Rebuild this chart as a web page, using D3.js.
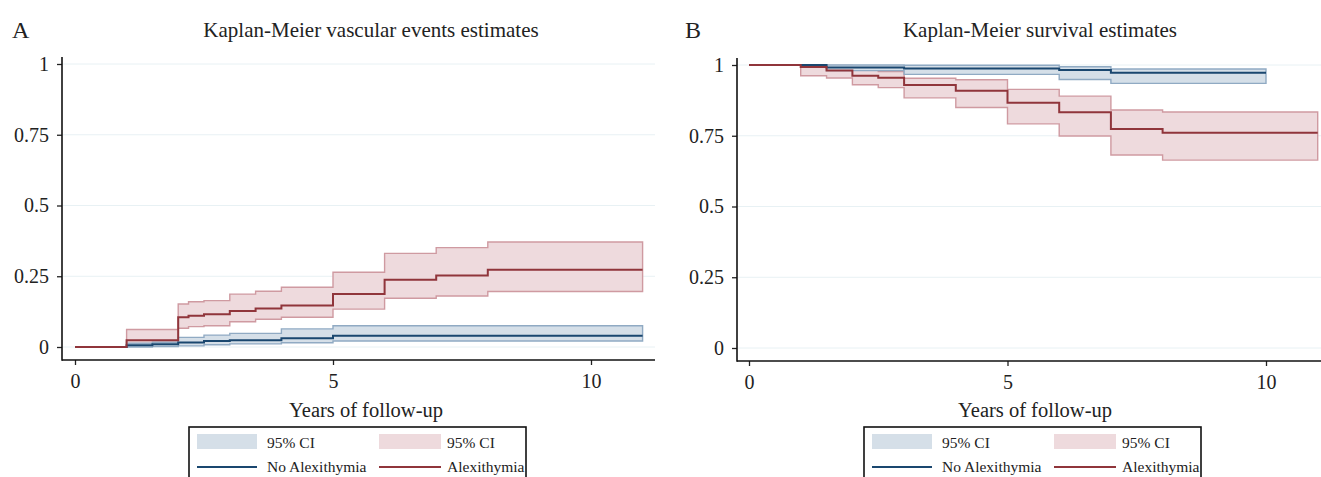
<!DOCTYPE html>
<html>
<head>
<meta charset="utf-8">
<script src="https://cdn.jsdelivr.net/npm/d3@7"></script>
<style>
  body { margin: 0; background: #fff; }
  text { font-family: "Liberation Serif", "Times New Roman", serif; fill: #222; }
</style>
</head>
<body>
<div id="chart"></div>
<script>
// --- DATA ---
const xTicks = [0, 5, 10];
const yTicks = [0, 0.25, 0.5, 0.75, 1];
const yTickLabels = ["0", "0.25", "0.5", "0.75", "1"];
const legendLabels = ["95% CI", "95% CI", "No Alexithymia", "Alexithymia"];

// Panel A: vascular events (cumulative)
const vascTimeNoAlex = [0, 1, 1.5, 2, 2.5, 3, 4, 5, 11];
const vascEstNoAlex = [0, 0.006, 0.010, 0.016, 0.021, 0.024, 0.031, 0.040, 0.040];
const vascCiTimeNoAlex = [1, 1.5, 2, 2.5, 3, 4, 5, 11];
const vascLoNoAlex = [0.000, 0.002, 0.004, 0.008, 0.011, 0.015, 0.021, 0.021];
const vascHiNoAlex = [0.013, 0.017, 0.034, 0.042, 0.048, 0.064, 0.075, 0.075];

const vascTimeAlex = [0, 1, 2, 2.2, 2.5, 3, 3.5, 4, 5, 6, 7, 8, 11];
const vascEstAlex = [0, 0.024, 0.105, 0.110, 0.116, 0.127, 0.136, 0.147, 0.187, 0.238, 0.253, 0.273, 0.273];
const vascCiTimeAlex = [1, 2, 2.2, 2.5, 3, 3.5, 4, 5, 6, 7, 8, 11];
const vascLoAlex = [0.004, 0.066, 0.072, 0.075, 0.089, 0.098, 0.105, 0.134, 0.172, 0.180, 0.196, 0.196];
const vascHiAlex = [0.062, 0.152, 0.160, 0.164, 0.187, 0.197, 0.211, 0.264, 0.331, 0.351, 0.371, 0.371];

// Panel B: survival
const survTimeNoAlex = [0, 1.5, 3, 6, 7, 10];
const survEstNoAlex = [1, 0.991, 0.988, 0.982, 0.973, 0.973];
const survCiTimeNoAlex = [1.5, 3, 6, 7, 10];
const survLoNoAlex = [0.980, 0.967, 0.949, 0.935, 0.935];
const survHiNoAlex = [1.0, 0.999, 0.994, 0.986, 0.986];

const survTimeAlex = [0, 1, 1.5, 2, 2.5, 3, 4, 5, 6, 7, 8, 11];
const survEstAlex = [1, 0.993, 0.981, 0.962, 0.955, 0.929, 0.909, 0.867, 0.833, 0.774, 0.761, 0.761];
const survCiTimeAlex = [1, 1.5, 2, 2.5, 3, 4, 5, 6, 7, 8, 11];
const survLoAlex = [0.962, 0.954, 0.930, 0.920, 0.884, 0.850, 0.792, 0.749, 0.682, 0.664, 0.664];
const survHiAlex = [1.0, 0.998, 0.981, 0.977, 0.953, 0.948, 0.914, 0.890, 0.841, 0.834, 0.834];

// colours (Stata s2color navy / maroon)
const BLUE = "#1a476f", RED = "#90353b";
const BLUE_FILL = "#d5dfe8", BLUE_EDGE = "#90aac3";
const RED_FILL = "#eedadd", RED_EDGE = "#cf9aa1";

const svg = d3.select("#chart").append("svg")
    .attr("width", 1321)
    .attr("height", 477);

function zipLine(t, v) { return t.map((d, i) => ({ t: d, v: v[i] })); }
function zipBand(t, lo, hi) { return t.map((d, i) => ({ t: d, lo: lo[i], hi: hi[i] })); }

function drawPanel(p) {
    const g = svg.append("g");
    const x = d3.scaleLinear().domain([0, 10]).range(p.xRange);
    const y = d3.scaleLinear().domain([0, 1]).range(p.yRange);

    // gridlines
    g.selectAll("line.grid")
        .data(yTicks)
        .enter().append("line")
        .attr("x1", p.frame.left + 1).attr("x2", p.frame.right)
        .attr("y1", d => y(d)).attr("y2", d => y(d))
        .attr("stroke", "#e8f1f4").attr("stroke-width", 1);

    // CI bands: red first, then blue
    const area = d3.area().curve(d3.curveStepAfter)
        .x(d => x(d.t)).y0(d => y(d.lo)).y1(d => y(d.hi));
    const line = d3.line().curve(d3.curveStepAfter)
        .x(d => x(d.t)).y(d => y(d.v));

    g.append("path").datum(zipBand(p.alex.ciT, p.alex.lo, p.alex.hi))
        .attr("d", area).attr("fill", RED_FILL)
        .attr("stroke", RED_EDGE).attr("stroke-width", 1.4);
    g.append("path").datum(zipBand(p.noAlex.ciT, p.noAlex.lo, p.noAlex.hi))
        .attr("d", area).attr("fill", BLUE_FILL)
        .attr("stroke", BLUE_EDGE).attr("stroke-width", 1.4);

    g.append("path").datum(zipLine(p.noAlex.t, p.noAlex.v))
        .attr("d", line).attr("fill", "none")
        .attr("stroke", BLUE).attr("stroke-width", 2);
    g.append("path").datum(zipLine(p.alex.t, p.alex.v))
        .attr("d", line).attr("fill", "none")
        .attr("stroke", RED).attr("stroke-width", 2);

    // axes
    const yAxis = g.append("g")
        .attr("transform", `translate(${p.frame.left},0)`)
        .call(d3.axisLeft(y).tickValues(yTicks)
            .tickFormat((d, i) => yTickLabels[i])
            .tickSize(5).tickPadding(8).tickSizeOuter(0));
    const xAxis = g.append("g")
        .attr("transform", `translate(0,${p.frame.bottom})`)
        .call(d3.axisBottom(x).tickValues(xTicks)
            .tickSize(5).tickPadding(9).tickSizeOuter(0));
    [yAxis, xAxis].forEach(a => {
        a.select(".domain").remove();
        a.selectAll(".tick line").attr("stroke", "#222").attr("stroke-width", 1.3);
        a.selectAll(".tick text").attr("font-size", 20)
            .attr("font-family", "Liberation Serif, serif").attr("fill", "#222");
    });
    g.append("line")
        .attr("x1", p.frame.left).attr("x2", p.frame.left)
        .attr("y1", p.frame.top).attr("y2", p.frame.bottom + 0.8)
        .attr("stroke", "#111").attr("stroke-width", 1.6);
    g.append("line")
        .attr("x1", p.frame.left).attr("x2", p.frame.right)
        .attr("y1", p.frame.bottom).attr("y2", p.frame.bottom)
        .attr("stroke", "#111").attr("stroke-width", 1.6);

    // titles
    g.append("text").attr("x", p.letterX).attr("y", 38)
        .attr("font-size", 24).text(p.letter);
    g.append("text").attr("x", p.titleX).attr("y", 37)
        .attr("text-anchor", "middle").attr("font-size", 21).text(p.title);
    g.append("text").attr("x", p.xLabelX).attr("y", 417)
        .attr("text-anchor", "middle").attr("font-size", 20.5).text("Years of follow-up");

    // legend
    const lg = g.append("g").attr("transform", `translate(${p.legendX},427)`);
    lg.append("rect").attr("x", 0).attr("y", 0)
        .attr("width", 337).attr("height", 70)
        .attr("fill", "#fff").attr("stroke", "#111").attr("stroke-width", 1.6);
    lg.append("rect").attr("x", 8).attr("y", 7).attr("width", 60).attr("height", 15)
        .attr("fill", BLUE_FILL);
    lg.append("rect").attr("x", 190).attr("y", 7).attr("width", 62).attr("height", 15)
        .attr("fill", RED_FILL);
    lg.append("line").attr("x1", 8).attr("x2", 68).attr("y1", 40).attr("y2", 40)
        .attr("stroke", BLUE).attr("stroke-width", 2);
    lg.append("line").attr("x1", 190).attr("x2", 252).attr("y1", 40).attr("y2", 40)
        .attr("stroke", RED).attr("stroke-width", 2);
    const lx = [78, 258, 78, 258], ly = [21, 21, 45, 45];
    lg.selectAll("text.leg")
        .data(legendLabels)
        .enter().append("text")
        .attr("x", (d, i) => lx[i]).attr("y", (d, i) => ly[i])
        .attr("font-size", 15.5).text(d => d);
}

// --- PANEL A ---
drawPanel({
    letter: "A", letterX: 12,
    title: "Kaplan-Meier vascular events estimates", titleX: 371,
    xLabelX: 366, legendX: 189,
    xRange: [75, 591], yRange: [347, 64],
    frame: { left: 62, right: 655, top: 57, bottom: 360 },
    noAlex: { t: vascTimeNoAlex, v: vascEstNoAlex, ciT: vascCiTimeNoAlex, lo: vascLoNoAlex, hi: vascHiNoAlex },
    alex: { t: vascTimeAlex, v: vascEstAlex, ciT: vascCiTimeAlex, lo: vascLoAlex, hi: vascHiAlex }
});

// --- PANEL B ---
drawPanel({
    letter: "B", letterX: 685,
    title: "Kaplan-Meier survival estimates", titleX: 1040,
    xLabelX: 1035, legendX: 864,
    xRange: [749, 1266], yRange: [348, 65],
    frame: { left: 737, right: 1325, top: 58, bottom: 361 },
    noAlex: { t: survTimeNoAlex, v: survEstNoAlex, ciT: survCiTimeNoAlex, lo: survLoNoAlex, hi: survHiNoAlex },
    alex: { t: survTimeAlex, v: survEstAlex, ciT: survCiTimeAlex, lo: survLoAlex, hi: survHiAlex }
});
</script>
</body>
</html>
